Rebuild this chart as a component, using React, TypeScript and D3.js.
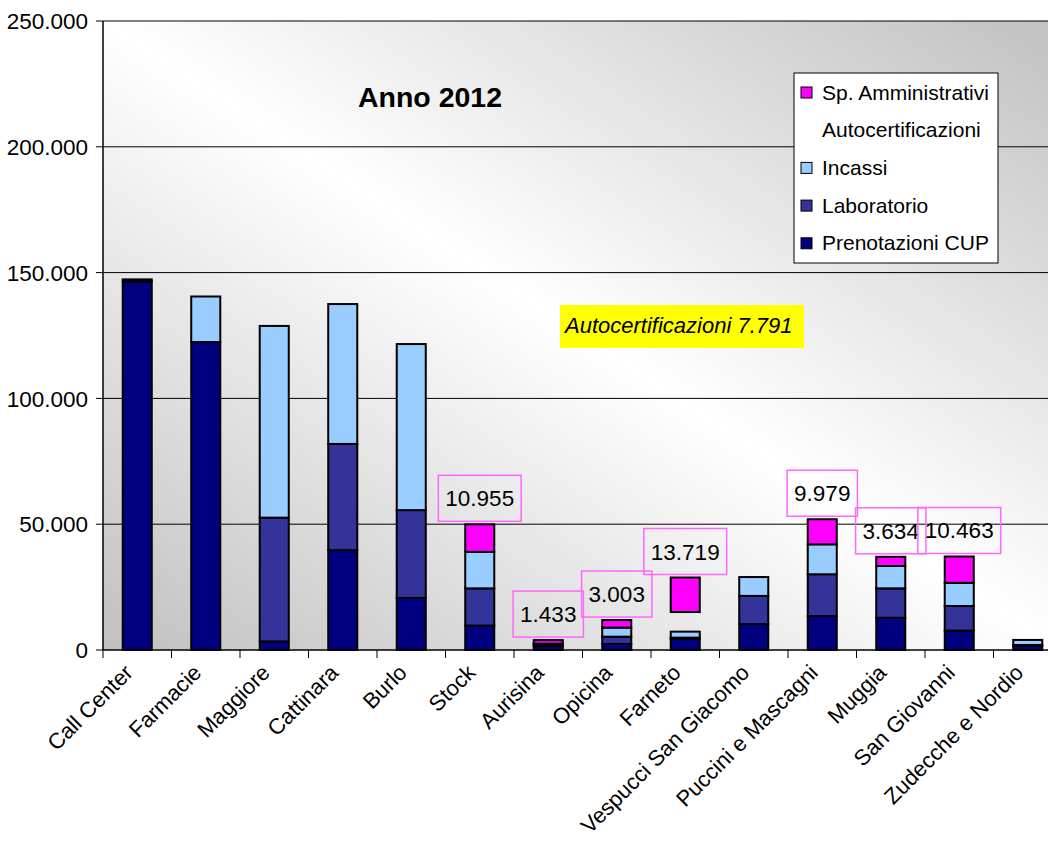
import * as d3 from 'd3'
import { useEffect, useRef } from 'react'

const W = 1048
const H = 843
const PLOT_LEFT = 103
const PLOT_TOP = 21
const PLOT_BOTTOM = 650
const STEP = 68.5

const categories = [
  'Call Center', 'Farmacie', 'Maggiore', 'Cattinara', 'Burlo', 'Stock', 'Aurisina',
  'Opicina', 'Farneto', 'Vespucci San Giacomo', 'Puccini e Mascagni', 'Muggia',
  'San Giovanni', 'Zudecche e Nordio',
]
const prenotazioniCup = [146500, 122400, 3400, 39700, 20700, 9700, 1500, 2400, 4500, 10300, 13500, 12800, 7700, 1600]
const laboratorio = [800, 0, 49200, 42200, 34900, 14800, 600, 2900, 400, 11200, 16600, 11700, 9800, 400]
const incassi = [0, 18100, 76200, 55600, 66000, 14500, 400, 3600, 2400, 7500, 11900, 8900, 9200, 2000]
const autocertificazioni = [0, 0, 0, 0, 0, 0, 0, 0, 7791, 0, 0, 0, 0, 0]
const spAmministrativi = [0, 0, 0, 0, 0, 10955, 1433, 3003, 13719, 0, 9979, 3634, 10463, 0]
const yTicks = [0, 50000, 100000, 150000, 200000, 250000]

const seriesKeys = ['cup', 'lab', 'incassi', 'auto', 'sp']
const seriesColors: Record<string, string> = {
  cup: '#000080', lab: '#333399', incassi: '#99ccff', auto: 'none', sp: '#ff00ff',
}
const legendItems = [
  { label: 'Sp. Amministrativi', color: '#ff00ff' },
  { label: 'Autocertificazioni', color: 'none' },
  { label: 'Incassi', color: '#99ccff' },
  { label: 'Laboratorio', color: '#333399' },
  { label: 'Prenotazioni CUP', color: '#000080' },
]

const FONT = '"Liberation Sans", Arial, sans-serif'
const fmt = (v: number) => d3.format(',')(v).replace(/,/g, '.')

export default function App() {
  const ref = useRef<SVGSVGElement>(null)

  useEffect(() => {
    if (!ref.current) return
    const svg = d3.select(ref.current)
    svg.selectAll('*').remove()

    const plotRight = PLOT_LEFT + STEP * categories.length

    const x = d3.scaleBand<string>()
      .domain(categories)
      .range([PLOT_LEFT, plotRight])
      .paddingInner(0.576)
      .paddingOuter(0.288)
    const y = d3.scaleLinear().domain([0, 250000]).range([PLOT_BOTTOM, PLOT_TOP])

    const rows = categories.map((c, i) => ({
      cat: c,
      cup: prenotazioniCup[i],
      lab: laboratorio[i],
      incassi: incassi[i],
      auto: autocertificazioni[i],
      sp: spAmministrativi[i],
    }))
    const stacked = d3.stack<any>().keys(seriesKeys)(rows)

    // background gradient: grey corners top-right / bottom-left, white diagonal
    const defs = svg.append('defs')
    const grad = defs.append('linearGradient')
      .attr('id', 'bg')
      .attr('x1', 1).attr('y1', 0).attr('x2', 0).attr('y2', 1)
    grad.append('stop').attr('offset', 0).attr('stop-color', '#c0c0c0')
    grad.append('stop').attr('offset', 0.5).attr('stop-color', '#ffffff')
    grad.append('stop').attr('offset', 1).attr('stop-color', '#c0c0c0')

    svg.append('rect')
      .attr('x', PLOT_LEFT).attr('y', PLOT_TOP)
      .attr('width', plotRight - PLOT_LEFT)
      .attr('height', PLOT_BOTTOM - PLOT_TOP)
      .attr('fill', 'url(#bg)')

    // gridlines + y ticks
    svg.append('g').selectAll('line')
      .data(yTicks.filter(t => t > 0))
      .enter().append('line')
      .attr('x1', PLOT_LEFT).attr('x2', W)
      .attr('y1', d => y(d)).attr('y2', d => y(d))
      .attr('stroke', '#000').attr('stroke-width', 1)

    svg.append('g').selectAll('line')
      .data(yTicks)
      .enter().append('line')
      .attr('x1', PLOT_LEFT - 7).attr('x2', PLOT_LEFT)
      .attr('y1', d => y(d)).attr('y2', d => y(d))
      .attr('stroke', '#000')

    svg.append('g').selectAll('text')
      .data(yTicks)
      .enter().append('text')
      .attr('x', 88)
      .attr('y', d => y(d))
      .attr('dy', '0.36em')
      .attr('text-anchor', 'end')
      .attr('font-family', FONT)
      .attr('font-size', 22.5)
      .attr('fill', '#000')
      .text(d => fmt(d))

    // axes lines
    svg.append('line')
      .attr('x1', PLOT_LEFT).attr('x2', PLOT_LEFT)
      .attr('y1', PLOT_TOP).attr('y2', PLOT_BOTTOM)
      .attr('stroke', '#000').attr('stroke-width', 1.5)
    svg.append('line')
      .attr('x1', PLOT_LEFT).attr('x2', W)
      .attr('y1', PLOT_BOTTOM).attr('y2', PLOT_BOTTOM)
      .attr('stroke', '#000').attr('stroke-width', 1.5)

    // x ticks at category boundaries
    svg.append('g').selectAll('line')
      .data(d3.range(categories.length + 1))
      .enter().append('line')
      .attr('x1', i => PLOT_LEFT + i * x.step())
      .attr('x2', i => PLOT_LEFT + i * x.step())
      .attr('y1', PLOT_BOTTOM).attr('y2', PLOT_BOTTOM + 8)
      .attr('stroke', '#000')

    // bars
    const layers = svg.append('g')
      .selectAll('g')
      .data(stacked)
      .enter().append('g')
      .attr('fill', d => seriesColors[d.key])

    layers.filter(d => d.key !== 'auto')
      .selectAll('rect')
      .data(d => d.filter(s => s[1] - s[0] > 0))
      .enter().append('rect')
      .attr('x', d => x(d.data.cat)!)
      .attr('width', x.bandwidth())
      .attr('y', d => y(d[1]))
      .attr('height', d => y(d[0]) - y(d[1]))
      .attr('stroke', '#000')
      .attr('stroke-width', 2)

    // Sp. Amministrativi data labels
    const labelG = svg.append('g')
    rows.forEach(r => {
      if (!r.sp) return
      const total = r.cup + r.lab + r.incassi + r.auto + r.sp
      const cx = x(r.cat)! + x.bandwidth() / 2
      const txt = fmt(r.sp)
      const g = labelG.append('g')
      const t = g.append('text')
        .attr('x', cx)
        .attr('y', y(total) - 3 - 15)
        .attr('text-anchor', 'middle')
        .attr('font-family', FONT)
        .attr('font-size', 22.5)
        .attr('fill', '#000')
        .text(txt)
      const tw = (t.node() as SVGTextElement).getComputedTextLength()
      g.insert('rect', 'text')
        .attr('x', cx - tw / 2 - 7)
        .attr('y', y(total) - 3 - 46)
        .attr('width', tw + 14)
        .attr('height', 46)
        .attr('fill', 'none')
        .attr('stroke', '#ff66ff')
        .attr('stroke-width', 1.5)
    })

    // category labels
    svg.append('g').selectAll('text')
      .data(categories)
      .enter().append('text')
      .attr('transform', d => `translate(${x(d)! + x.bandwidth() / 2 - 3}, ${PLOT_BOTTOM + 24}) rotate(-45)`)
      .attr('text-anchor', 'end')
      .attr('font-family', FONT)
      .attr('font-size', 22)
      .attr('fill', '#000')
      .text(d => d)

    // title
    svg.append('text')
      .attr('x', 430).attr('y', 107)
      .attr('text-anchor', 'middle')
      .attr('font-family', FONT)
      .attr('font-weight', 'bold')
      .attr('font-size', 28.5)
      .attr('fill', '#000')
      .text('Anno 2012')

    // yellow annotation
    svg.append('rect')
      .attr('x', 560).attr('y', 305).attr('width', 244).attr('height', 43)
      .attr('fill', '#ffff00')
    svg.append('text')
      .attr('x', 565).attr('y', 333)
      .attr('font-family', FONT)
      .attr('font-style', 'italic')
      .attr('font-size', 22)
      .attr('fill', '#000')
      .text(`Autocertificazioni ${fmt(d3.sum(autocertificazioni))}`)

    // legend
    const lg = svg.append('g').attr('transform', 'translate(794, 73)')
    lg.append('rect')
      .attr('width', 204).attr('height', 190)
      .attr('fill', '#fff').attr('stroke', '#000').attr('stroke-width', 1)
    const li = lg.selectAll('g.item')
      .data(legendItems)
      .enter().append('g')
      .attr('transform', (_, i) => `translate(0, ${19 + i * 37.7})`)
    li.filter(d => d.color !== 'none')
      .append('rect')
      .attr('x', 7).attr('y', -5).attr('width', 11).attr('height', 11)
      .attr('fill', d => d.color).attr('stroke', '#000').attr('stroke-width', 1)
    li.append('text')
      .attr('x', 28).attr('y', 0).attr('dy', '0.36em')
      .attr('font-family', FONT)
      .attr('font-size', 21)
      .attr('fill', '#000')
      .text(d => d.label)
  }, [])

  return (
    <svg
      ref={ref}
      width={W}
      height={H}
      style={{ position: 'absolute', left: 0, top: 0, background: '#fff' }}
    />
  )
}
